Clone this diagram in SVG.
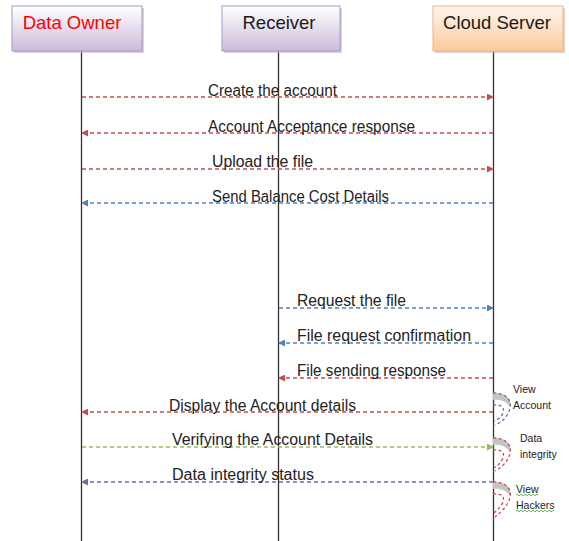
<svg xmlns="http://www.w3.org/2000/svg" width="569" height="541" viewBox="0 0 569 541">
  <style>
    .hdr { font-family: "Liberation Sans", Arial, sans-serif; font-size: 18.5px; }
    .msg { font-family: "Liberation Sans", Arial, sans-serif; font-size: 16px; fill: #222; }
    .note { font-family: "Liberation Sans", Arial, sans-serif; font-size: 10.5px; fill: #222; }
    .life { stroke: #333; stroke-width: 1.3; fill: none; }
    .msgline { fill: none; stroke-width: 1.3; stroke-dasharray: 4 3; }
    .red { stroke: #C0504D; }
    .blue { stroke: #4F81BD; }
    .green { stroke: #9BBB59; }
    .purple { stroke: #8064A2; }
    .loopdash { fill: none; stroke-width: 1.3; stroke-dasharray: 3 2.5; }
  </style>
  <defs>
    <linearGradient id="lavender" x1="0" y1="0" x2="0" y2="1">
      <stop offset="0" stop-color="#ffffff"/>
      <stop offset="1" stop-color="#cbbcdc"/>
    </linearGradient>
    <linearGradient id="peach" x1="0" y1="0" x2="0" y2="1">
      <stop offset="0" stop-color="#fff6ee"/>
      <stop offset="1" stop-color="#fbc99c"/>
    </linearGradient>
    <marker id="hRed" markerWidth="7" markerHeight="7" refX="6" refY="3.5" orient="auto" markerUnits="userSpaceOnUse">
      <path d="M0,0 L7,3.5 L0,7 Z" fill="#C0504D"/>
    </marker>
    <marker id="hBlue" markerWidth="7" markerHeight="7" refX="6" refY="3.5" orient="auto" markerUnits="userSpaceOnUse">
      <path d="M0,0 L7,3.5 L0,7 Z" fill="#4F81BD"/>
    </marker>
    <marker id="hGreen" markerWidth="7" markerHeight="7" refX="6" refY="3.5" orient="auto" markerUnits="userSpaceOnUse">
      <path d="M0,0 L7,3.5 L0,7 Z" fill="#9BBB59"/>
    </marker>
    <marker id="hPurple" markerWidth="7" markerHeight="7" refX="6" refY="3.5" orient="auto" markerUnits="userSpaceOnUse">
      <path d="M0,0 L7,3.5 L0,7 Z" fill="#8064A2"/>
    </marker>
    <!-- curled self-call glyph, origin at the lifeline -->
    <g id="curl">
      <path d="M0,0 C12,-1 19,5 17,14 C13,8 7,6 0,7 Z" fill="#c4c4c4"/>
    </g>
  </defs>

  <rect width="569" height="541" fill="#ffffff"/>

  <!-- lifelines -->
  <g id="lifelines">
    <line class="life" x1="81.5" y1="51" x2="81.5" y2="541"/>
    <line class="life" x1="278.5" y1="51" x2="278.5" y2="541"/>
    <line class="life" x1="493.5" y1="51" x2="493.5" y2="541"/>
  </g>

  <!-- participants -->
  <g id="data-owner">
    <rect x="14" y="8" width="130" height="45" fill="#b8b8b8" opacity="0.6"/>
    <rect x="12" y="6" width="130" height="45" fill="url(#lavender)" stroke="#a898c4" stroke-width="1"/>
    <text class="hdr" x="72" y="29" text-anchor="middle" fill="#ff0000">Data Owner</text>
  </g>
  <g id="receiver">
    <rect x="224" y="8" width="118" height="45" fill="#b8b8b8" opacity="0.6"/>
    <rect x="222" y="6" width="118" height="45" fill="url(#lavender)" stroke="#a898c4" stroke-width="1"/>
    <text class="hdr" x="279" y="29" text-anchor="middle" fill="#1a1a1a">Receiver</text>
  </g>
  <g id="cloud-server">
    <rect x="435" y="8" width="130" height="45" fill="#b8b8b8" opacity="0.6"/>
    <rect x="433" y="6" width="130" height="45" fill="url(#peach)" stroke="#f4b47c" stroke-width="1"/>
    <text class="hdr" x="497" y="29" text-anchor="middle" fill="#1a1a1a">Cloud Server</text>
  </g>

  <!-- messages -->
  <g id="connectors">
    <line class="msgline red" x1="82" y1="97" x2="493" y2="97" marker-end="url(#hRed)"/>
    <line class="msgline red" x1="493" y1="133" x2="82" y2="133" marker-end="url(#hRed)"/>
    <line class="msgline red" x1="82" y1="169" x2="493" y2="169" marker-end="url(#hRed)"/>
    <line class="msgline blue" x1="493" y1="203" x2="82" y2="203" marker-end="url(#hBlue)"/>
    <line class="msgline blue" x1="279" y1="308" x2="493" y2="308" marker-end="url(#hBlue)"/>
    <line class="msgline blue" x1="493" y1="343" x2="279" y2="343" marker-end="url(#hBlue)"/>
    <line class="msgline red" x1="493" y1="378" x2="279" y2="378" marker-end="url(#hRed)"/>
    <line class="msgline red" x1="493" y1="412" x2="82" y2="412" marker-end="url(#hRed)"/>
    <line class="msgline green" x1="82" y1="447" x2="493" y2="447" marker-end="url(#hGreen)"/>
    <line class="msgline purple" x1="493" y1="482" x2="82" y2="482" marker-end="url(#hPurple)"/>

    <!-- self-calls on the server lifeline -->
    <g transform="translate(493,393)">
      <use href="#curl"/>
      <path class="loopdash purple" d="M0,0 C13,0 19,7 17,15 C15,24 8,30 2,32"/>
      <path class="loopdash purple" d="M0,12 C8,11 12,14 10,20 C8,25 4,27 1,28"/>
    </g>
    <g transform="translate(493,438)">
      <use href="#curl"/>
      <path class="loopdash red" d="M0,0 C13,0 19,7 17,15 C15,24 8,30 2,33"/>
      <path class="loopdash red" d="M0,12 C8,11 12,14 10,20 C8,25 4,28 1,30"/>
    </g>
    <g transform="translate(493,482)">
      <use href="#curl"/>
      <path class="loopdash red" d="M0,0 C13,0 19,7 17,15 C15,24 8,30 2,35"/>
      <path class="loopdash red" d="M0,12 C8,11 12,14 10,20 C8,25 4,28 1,31"/>
    </g>
  </g>

  <!-- message labels -->
  <g id="labels">
    <text class="msg" x="208" y="96" textLength="129" lengthAdjust="spacingAndGlyphs">Create the account</text>
    <text class="msg" x="208" y="132" textLength="207" lengthAdjust="spacingAndGlyphs">Account Acceptance response</text>
    <text class="msg" x="212" y="167" textLength="101" lengthAdjust="spacingAndGlyphs">Upload the file</text>
    <text class="msg" x="212" y="202" textLength="177" lengthAdjust="spacingAndGlyphs">Send Balance Cost Details</text>
    <text class="msg" x="297" y="306" textLength="109" lengthAdjust="spacingAndGlyphs">Request the file</text>
    <text class="msg" x="297" y="341" textLength="174" lengthAdjust="spacingAndGlyphs">File request confirmation</text>
    <text class="msg" x="297" y="376" textLength="149" lengthAdjust="spacingAndGlyphs">File sending response</text>
    <text class="msg" x="169" y="411" textLength="187" lengthAdjust="spacingAndGlyphs">Display the Account details</text>
    <text class="msg" x="172" y="445" textLength="201" lengthAdjust="spacingAndGlyphs">Verifying the Account Details</text>
    <text class="msg" x="172" y="480" textLength="142" lengthAdjust="spacingAndGlyphs">Data integrity status</text>
  </g>

  <!-- self-call notes -->
  <g id="notes">
    <text class="note" x="513" y="393">View</text>
    <text class="note" x="513" y="409">Account</text>
    <text class="note" x="520" y="442">Data</text>
    <text class="note" x="520" y="458">integrity</text>
    <text class="note" x="516" y="493">View</text>
    <text class="note" x="516" y="509">Hackers</text>
    <path d="M516,495 q1,-1.5 2,0 t2,0 t2,0 t2,0 t2,0 t2,0 t2,0 t2,0 t2,0 t2,0 t2,0" fill="none" stroke="#2eaa2e" stroke-width="0.8"/>
    <path d="M516,511 q1,-1.5 2,0 t2,0 t2,0 t2,0 t2,0 t2,0 t2,0 t2,0 t2,0 t2,0 t2,0 t2,0 t2,0 t2,0 t2,0 t2,0 t2,0 t2,0 t2,0" fill="none" stroke="#2eaa2e" stroke-width="0.8"/>
  </g>
</svg>
